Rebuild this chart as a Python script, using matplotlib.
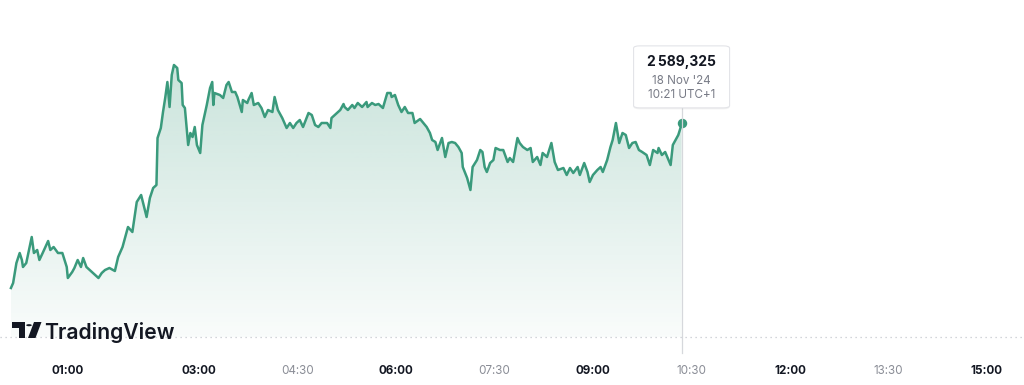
import numpy as np
import matplotlib
matplotlib.use("Agg")
import matplotlib.pyplot as plt
from matplotlib.patches import PathPatch, FancyBboxPatch, Circle, Polygon
from matplotlib.lines import Line2D

plt.rcParams['font.family'] = ['Inter', 'DejaVu Sans']

# minutes since midnight, 18 Nov '24 (UTC+1)
minutes = [
    8, 10, 13, 16, 18, 19, 22, 27, 29, 32, 34, 37, 42, 44, 47, 51, 55, 59, 60, 64,
    66, 69, 72, 74, 77, 82, 85, 88, 91, 94, 98, 103, 106, 110, 115, 119, 123, 127, 132, 135,
    138, 141, 142, 145, 147, 149, 151, 153, 155, 157, 160, 161, 164, 165, 167, 169, 170, 172, 174, 176,
    178, 181, 183, 187, 190, 192, 193, 194, 199, 202, 205, 207, 210, 213, 215, 219, 220, 224, 225, 228,
    230, 234, 237, 240, 243, 247, 249, 252, 256, 260, 263, 266, 269, 272, 275, 280, 283, 286, 289, 292,
    297, 300, 301, 306, 309, 312, 313, 316, 320, 322, 325, 329, 333, 334, 338, 341, 344, 348, 352, 355,
    356, 359, 362, 365, 368, 371, 375, 377, 382, 385, 388, 391, 393, 396, 398, 402, 405, 408, 411, 414,
    417, 420, 421, 425, 428, 430, 434, 437, 439, 441, 443, 446, 449, 451, 455, 458, 462, 464, 467, 471,
    473, 476, 480, 483, 485, 489, 492, 494, 498, 502, 505, 508, 513, 516, 519, 522, 526, 528, 532, 535,
    537, 540, 544, 547, 549, 553, 556, 558, 561, 564, 567, 570, 573, 576, 579, 582, 585, 589, 592, 595,
    599, 600, 603, 606, 611, 613, 618, 620, 621,
]
prices = [
    2556.3, 2557.3, 2561.3, 2563.3, 2561.9, 2560.5, 2561.3, 2566.5, 2563.3, 2563.9,
    2561.9, 2563.3, 2565.7, 2563.9, 2564.5, 2563.3, 2563.3, 2560.5, 2558.3, 2559.5,
    2560.3, 2561.9, 2560.5, 2562.3, 2560.5, 2559.5, 2558.9, 2558.3, 2559.3, 2559.9,
    2560.3, 2559.7, 2562.5, 2564.5, 2568.5, 2567.5, 2573.5, 2574.9, 2570.5, 2574.3,
    2576.3, 2576.9, 2586.3, 2588.3, 2591.5, 2594.3, 2597.5, 2592.5, 2598.9, 2600.9,
    2600.3, 2597.9, 2597.3, 2592.9, 2592.3, 2587.5, 2584.9, 2587.3, 2586.5, 2588.5,
    2584.9, 2583.3, 2588.9, 2592.9, 2596.3, 2597.5, 2592.9, 2595.3, 2594.9, 2594.3,
    2596.9, 2597.5, 2595.5, 2595.5, 2594.5, 2591.5, 2593.9, 2593.3, 2593.9, 2595.3,
    2592.9, 2593.3, 2592.3, 2590.5, 2591.9, 2591.5, 2594.5, 2591.9, 2590.3, 2588.3,
    2589.3, 2588.3, 2589.3, 2589.9, 2588.5, 2591.3, 2590.9, 2588.9, 2588.5, 2589.3,
    2589.3, 2588.3, 2590.3, 2591.3, 2591.9, 2593.1, 2592.5, 2591.9, 2592.9, 2592.3,
    2593.3, 2592.5, 2593.5, 2592.5, 2593.3, 2592.9, 2593.1, 2592.3, 2595.3, 2595.3,
    2594.5, 2594.9, 2592.9, 2591.5, 2592.5, 2591.3, 2591.3, 2589.3, 2590.1, 2589.3,
    2588.5, 2587.3, 2585.9, 2585.5, 2583.9, 2586.3, 2582.5, 2585.3, 2585.5, 2585.3,
    2584.5, 2583.3, 2580.5, 2578.3, 2575.9, 2580.5, 2581.9, 2583.9, 2583.5, 2580.5,
    2579.5, 2581.3, 2581.9, 2584.3, 2583.9, 2583.9, 2581.5, 2582.3, 2581.5, 2586.3,
    2585.3, 2584.5, 2583.9, 2584.3, 2581.5, 2582.5, 2580.9, 2583.3, 2582.5, 2585.3,
    2581.5, 2579.9, 2580.3, 2578.9, 2580.3, 2579.3, 2580.5, 2578.9, 2581.3, 2579.5,
    2577.5, 2578.9, 2579.9, 2580.5, 2579.5, 2581.9, 2584.5, 2585.9, 2589.3, 2585.3,
    2587.3, 2586.9, 2584.3, 2585.3, 2585.5, 2583.9, 2583.5, 2582.9, 2580.9, 2583.9,
    2583.3, 2584.3, 2582.9, 2583.5, 2580.9, 2584.9, 2586.9, 2588.3, 2589.325,
]
tick_minutes = [60, 180, 270, 360, 450, 540, 630, 720, 810, 900]
tick_labels = ['01:00', '03:00', '04:30', '06:00', '07:30', '09:00', '10:30', '12:00', '13:30', '15:00']
tick_bold = [True, True, False, True, False, True, False, True, False, True]
last_value = '2\u202f589,325'
last_date = "18 Nov '24"
last_time = '10:21 UTC+1'

green = '#3a9a7c'
W, H = 1024, 385

t = np.array(minutes, dtype=float)
p = np.array(prices)
ymin, ymax = 2546.5, 2613.9

fig = plt.figure(figsize=(W / 100, H / 100), dpi=100)
ax = fig.add_axes([0, 1 - 337 / H, 1, 337 / H])
for s in ax.spines.values():
    s.set_visible(False)

# gradient area under the line
poly = ax.fill_between(t, p, ymin, facecolor='none', edgecolor='none')
clip = PathPatch(poly.get_paths()[0], transform=ax.transData, facecolor='none', edgecolor='none')
ax.add_patch(clip)
alpha = np.linspace(0.03, 0.27, 256)
grad = np.zeros((256, 1, 4))
grad[..., :3] = matplotlib.colors.to_rgb(green)
grad[:, 0, 3] = alpha
im = ax.imshow(grad, extent=[t[0], t[-1], ymin, p.max()], origin='lower',
               aspect='auto', zorder=1, interpolation='bilinear')
im.set_clip_path(clip)

ax.plot(t, p, color=green, lw=1.8, zorder=3, solid_joinstyle='round')
ax.plot(t[-1], p[-1], 'o', color=green, ms=5.8, zorder=4)
ax.axhline(ymin, color='#c5c8ce', lw=0.9, ls=(0, (1, 3)), clip_on=False, zorder=2)

ax.set_xlim(-2, 934)
ax.set_ylim(ymin, ymax)
ax.set_yticks([])
ax.set_xticks(tick_minutes)
ax.set_xticklabels(tick_labels)
ax.tick_params(axis='x', length=0, pad=20.5, labelsize=8.4)
for lab, b in zip(ax.get_xticklabels(), tick_bold):
    lab.set_fontweight('bold' if b else 'normal')
    lab.set_color('#131722' if b else '#8a8d96')

# crosshair + tooltip at last point
px, py = ax.transData.transform((t[-1], p[-1]))
fx = lambda v: v / W
fy = lambda v: v / H
fig.add_artist(Line2D([fx(px), fx(px)], [fy(32), fy(py + 15)], color='#d6d8dc', lw=0.9, zorder=1))
bw, bh = 96, 62
fig.add_artist(FancyBboxPatch((fx(px - bw / 2), fy(py + 15 - 1.5)), fx(bw), fy(bh),
                              boxstyle='round,pad=0,rounding_size=0.006',
                              fc='#000000', ec='none', alpha=0.05, zorder=5))
fig.add_artist(FancyBboxPatch((fx(px - bw / 2), fy(py + 15)), fx(bw), fy(bh),
                              boxstyle='round,pad=0,rounding_size=0.006',
                              fc='white', ec='#e3e4e8', lw=0.8, zorder=6))
fig.text(fx(px), fy(py + 61), last_value, ha='center', va='center', fontsize=10,
         fontweight='bold', color='#131722', zorder=7)
fig.text(fx(px), fy(py + 42), last_date, ha='center', va='center', fontsize=8.4,
         color='#787b86', zorder=7)
fig.text(fx(px), fy(py + 28), last_time, ha='center', va='center', fontsize=8.4,
         color='#787b86', zorder=7)

# TradingView logo
def tl(x, y):
    return (x / W, 1 - y / H)

dark = '#131722'
fig.add_artist(Polygon([tl(12, 322), tl(25, 322), tl(25, 338), tl(19, 338), tl(19, 328), tl(12, 328)],
                       closed=True, fc=dark, ec='none'))
fig.add_artist(Circle(tl(29, 325.2), 2.8 / W, fc=dark, ec='none',
                      transform=fig.transFigure))
fig.add_artist(Polygon([tl(34, 322), tl(41.5, 322), tl(35.5, 338), tl(28, 338)], closed=True, fc=dark, ec='none'))
fig.text(44 / W, 1 - 339 / H, 'TradingView', ha='left', va='baseline', fontsize=15.2,
         fontweight='semibold', color=dark)

fig.savefig('out.png', dpi=100)
